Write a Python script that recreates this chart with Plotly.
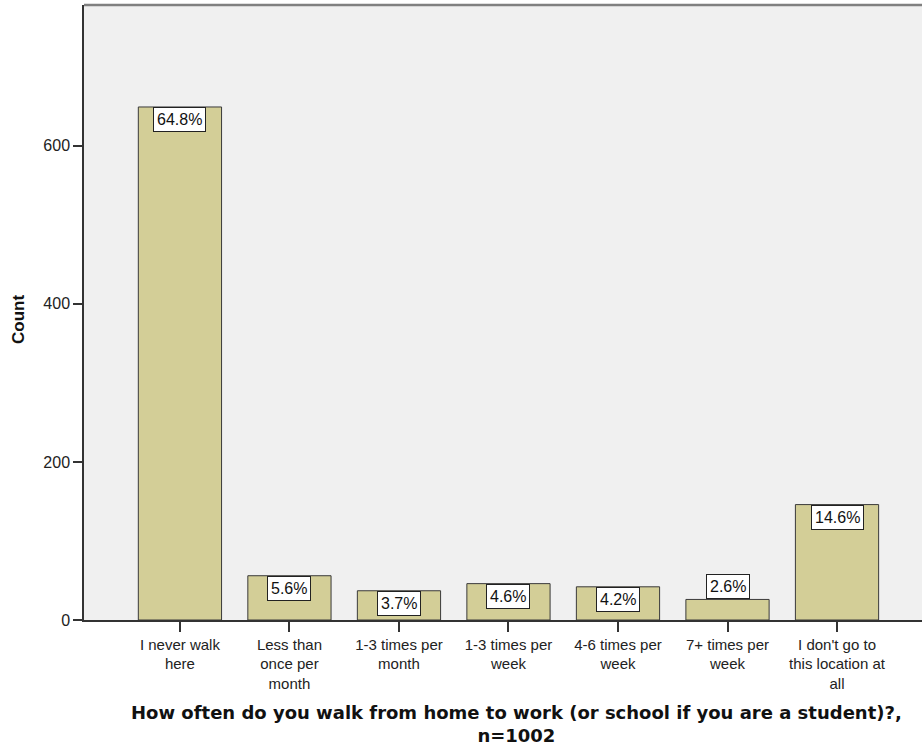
import plotly.graph_objects as go

categories = [
    "I never walk<br>here",
    "Less than<br>once per<br>month",
    "1-3 times per<br>month",
    "1-3 times per<br>week",
    "4-6 times per<br>week",
    "7+ times per<br>week",
    "I don't go to<br>this location at<br>all",
]
counts = [649, 56, 37, 46, 42, 26, 146]
pct_labels = ["64.8%", "5.6%", "3.7%", "4.6%", "4.2%", "2.6%", "14.6%"]
y_ticks = [0, 200, 400, 600]

W, H = 922, 747
L, R, T, B = 84, 0, 5, 127

fig = go.Figure()
fig.add_trace(go.Bar(
    x=list(range(len(categories))),
    y=counts,
    marker=dict(color="#D3CE97", line=dict(color="#3a3a3a", width=1)),
    width=0.76,
    hoverinfo="skip",
))

for i, (v, lab) in enumerate(zip(counts, pct_labels)):
    inside = v >= 30
    fig.add_annotation(
        x=i, y=v, xref="x", yref="y",
        text=lab, showarrow=False,
        yanchor="top" if inside else "bottom",
        xanchor="center",
        font=dict(family="Liberation Sans, Arial", size=16, color="#111"),
        bgcolor="white", bordercolor="#222", borderwidth=1, borderpad=3,
    )

# top border of plot area
fig.add_shape(type="line", xref="paper", yref="paper", x0=0, x1=1, y0=1, y1=1,
              line=dict(color="#808080", width=2.5))

# y axis title
fig.add_annotation(
    xref="paper", yref="paper", x=(18 - L) / (W - L - R), y=(620 - 320) / (620 - T),
    text="<b>Count</b>", textangle=-90, showarrow=False,
    font=dict(family="Liberation Sans, Arial", size=17, color="#111"),
    xanchor="center", yanchor="middle",
)

# x axis title
fig.add_annotation(
    xref="paper", yref="paper", x=(516 - L) / (W - L - R), y=(620 - 700) / (620 - T),
    text="<b>How often do you walk from home to work (or school if you are a student)?,<br>n=1002</b>",
    showarrow=False, align="center", xanchor="center", yanchor="top",
    font=dict(family="DejaVu Sans", size=18, color="#111"),
)

fig.update_layout(
    width=W, height=H,
    margin=dict(l=L, r=R, t=T, b=B, pad=0),
    paper_bgcolor="white",
    plot_bgcolor="#F0F0F0",
    showlegend=False,
    bargap=0.24,
    font=dict(family="Liberation Sans, Arial", size=15, color="#222"),
)
fig.update_xaxes(
    range=[-0.876, 6.776],
    tickmode="array", tickvals=list(range(len(categories))), ticktext=categories,
    ticks="outside", ticklen=10, tickcolor="#333", tickwidth=1.5,
    showline=True, linecolor="#333", linewidth=1.5,
    showgrid=False, zeroline=False, tickangle=0,
    tickfont=dict(size=15, color="#222"),
)
fig.update_yaxes(
    range=[0, 778],
    tickmode="array", tickvals=y_ticks,
    ticks="outside", ticklen=9, tickcolor="#333", tickwidth=1.5,
    showline=True, linecolor="#333", linewidth=1.5,
    showgrid=False, zeroline=False,
    tickfont=dict(size=16, color="#222"),
)

fig.write_html("out.html", config={"displayModeBar": False},
               post_script="document.body.style.margin='0';")
